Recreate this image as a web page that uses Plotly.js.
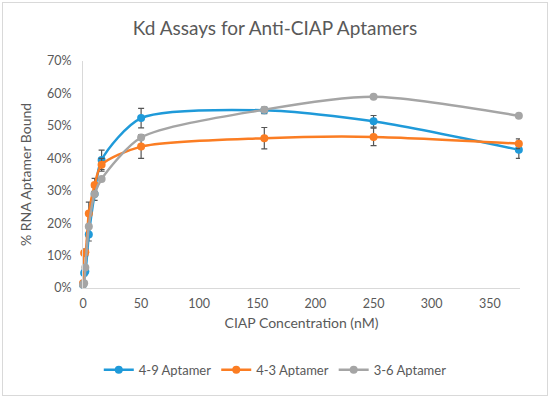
<!DOCTYPE html>
<html>
<head>
<meta charset="utf-8">
<script src="https://cdn.plot.ly/plotly-3.0.1.min.js"></script>
<style>
body{margin:0;padding:0;background:#fff;}
#chart{width:550px;height:398px;}
#frame{position:absolute;left:2px;top:2px;width:544px;height:392px;border:1px solid #d9d9d9;pointer-events:none;}
</style>
</head>
<body>
<div id="chart"></div>
<div id="frame"></div>
<script>
// Concentrations (nM)
const conc = [0, 1, 2, 5, 10, 16, 50, 156, 250, 375];
// Fraction bound
const apt49 = [0.010, 0.046, 0.052, 0.165, 0.29, 0.395, 0.524, 0.548, 0.514, 0.426];
const apt49Err = [0.005, 0.008, 0.008, 0.02, 0.02, 0.03, 0.03, 0.01, 0.018, 0.026];
const apt43 = [0.015, 0.108, 0.11, 0.23, 0.318, 0.38, 0.436, 0.462, 0.466, 0.445];
const apt43Err = [0.005, 0.01, 0.01, 0.035, 0.02, 0.02, 0.036, 0.033, 0.027, 0.015];
const apt36 = [0.010, 0.015, 0.063, 0.19, 0.29, 0.336, 0.464, 0.550, 0.590, 0.531];
const names = ["4-9 Aptamer", "4-3 Aptamer", "3-6 Aptamer"];
const colors = ["#1f9ad9", "#fb7d23", "#a5a5a5"];
const yTicks = [0, 0.1, 0.2, 0.3, 0.4, 0.5, 0.6, 0.7];
const yTickText = ["0%", "10%", "20%", "30%", "40%", "50%", "60%", "70%"];
const xTicks = [0, 50, 100, 150, 200, 250, 300, 350];

function tr(y, err, i) {
  const t = {
    x: conc, y: y, name: names[i], type: "scatter", mode: "lines+markers",
    line: {color: colors[i], width: 2.5, shape: "spline", smoothing: 0.75},
    marker: {color: colors[i], size: 8},
    cliponaxis: false
  };
  if (err) t.error_y = {type: "data", array: err, visible: true, color: "#555555", thickness: 1.2, width: 3};
  return t;
}
const data = [tr(apt49, apt49Err, 0), tr(apt43, apt43Err, 1), tr(apt36, null, 2)];

const layout = {
  width: 550, height: 398,
  margin: {l: 83, r: 30, t: 61, b: 110},
  paper_bgcolor: "#ffffff", plot_bgcolor: "#ffffff",
  font: {family: "Lato, 'Open Sans', sans-serif", color: "#595959", size: 12.5},
  title: {text: "Kd Assays for Anti-CIAP Aptamers", x: 0.5, xanchor: "center", y: 0.93, yanchor: "middle",
          font: {size: 19, color: "#595959"}},
  xaxis: {range: [0, 376], tickvals: xTicks, showgrid: false, zeroline: false,
          showline: true, linecolor: "#d9d9d9", linewidth: 1, ticks: "",
          ticklabelstandoff: 4,
          title: {text: "CIAP Concentration (nM)", font: {size: 14, color: "#595959"}, standoff: 8}},
  yaxis: {range: [0, 0.7], tickvals: yTicks, ticktext: yTickText, showgrid: false, zeroline: false,
          showline: true, linecolor: "#d9d9d9", linewidth: 1, ticks: "",
          ticklabelstandoff: 8,
          title: {text: "% RNA Aptamer Bound", font: {size: 14, color: "#595959"}, standoff: 12}},
  legend: {orientation: "h", x: 0.44, xanchor: "center", y: -0.36, yanchor: "middle",
           font: {size: 13, color: "#595959"}, itemwidth: 30},
  showlegend: true
};
Plotly.newPlot("chart", data, layout, {displayModeBar: false, staticPlot: true});
</script>
</body>
</html>
